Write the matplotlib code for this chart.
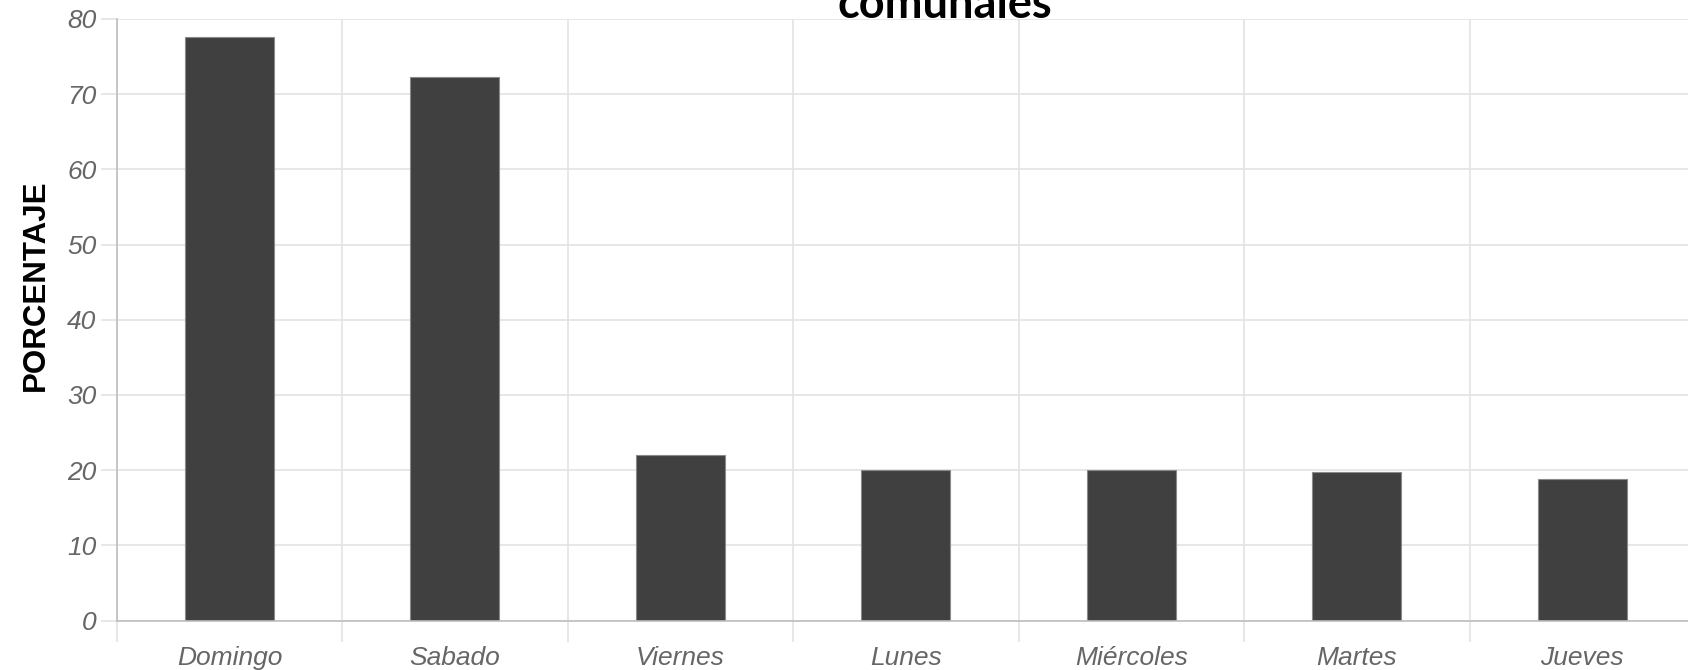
import matplotlib
matplotlib.use("Agg")
import matplotlib.pyplot as plt
import numpy as np

categories = ["Domingo", "Sabado", "Viernes", "Lunes", "Miércoles", "Martes", "Jueves"]
values = [77.6, 72.3, 22.0, 20.0, 20.0, 19.7, 18.8]
yticks = [0, 10, 20, 30, 40, 50, 60, 70, 80]
title_text = "comunales"
ylabel_text = "PORCENTAJE"

W, H = 1688, 670
fig = plt.figure(figsize=(W / 100, H / 100), dpi=100)
left, right = 116.7 / W, 1695 / W
bottom, top = (H - 620.6) / H, (H - 19) / H
ax = fig.add_axes([left, bottom, right - left, top - bottom])

x = np.arange(len(categories))
ax.bar(x, values, width=0.395, color="#404040", edgecolor="#8a8a8a", linewidth=0.8, zorder=3)

ax.set_xlim(-0.5, len(categories) - 0.5)
ax.set_ylim(0, 80)
ax.set_yticks(yticks)
ax.set_yticklabels([str(t) for t in yticks])
ax.set_xticks(x)
ax.set_xticklabels(categories)
ax.set_xticks(np.arange(len(categories) + 1) - 0.5, minor=True)

for lab in ax.get_xticklabels() + ax.get_yticklabels():
    lab.set_fontfamily("Liberation Sans")
    lab.set_fontstyle("italic")
    lab.set_fontsize(19)
    lab.set_color("#666666")

ax.tick_params(axis="x", which="major", length=0, pad=18)
ax.tick_params(axis="x", which="minor", length=15, color="#e3e3e3", width=1.2)
ax.tick_params(axis="y", which="major", length=11.5, color="#e3e3e3", width=1.2, pad=3)

ax.grid(axis="y", which="major", color="#e3e3e3", linewidth=1.2, zorder=0)
ax.grid(axis="x", which="minor", color="#e3e3e3", linewidth=1.2, zorder=0)
ax.set_axisbelow(True)

for s in ["top", "right"]:
    ax.spines[s].set_visible(False)
for s in ["left", "bottom"]:
    ax.spines[s].set_color("#bdbdbd")
    ax.spines[s].set_linewidth(1.2)
    ax.spines[s].set_zorder(4)

fig.text(36 / W, (H - 285) / H, ylabel_text, rotation=90, ha="center", va="center",
         fontfamily="Liberation Sans", fontweight="bold", fontsize=22.5, color="#000000")

fig.text(945 / W, (H - 18) / H, title_text, ha="center", va="baseline",
         fontfamily="Lato", fontweight="bold", fontsize=32.5, color="#000000")

fig.savefig("out.png", dpi=100)
